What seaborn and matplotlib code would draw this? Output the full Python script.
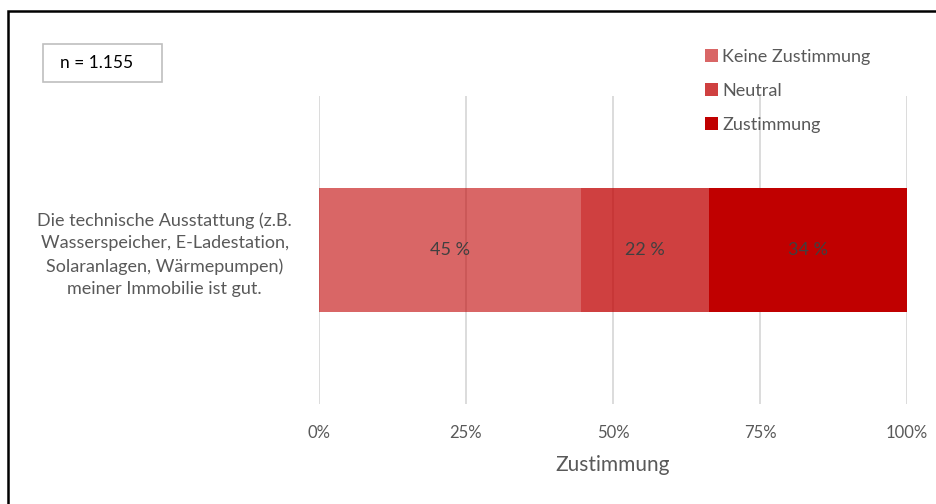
import pandas as pd
import matplotlib.pyplot as plt
import matplotlib.patches as mpatches
import seaborn as sns

# data
question = ("Die technische Ausstattung (z.B.\n"
            "Wasserspeicher, E-Ladestation,\n"
            "Solaranlagen, Wärmepumpen)\n"
            "meiner Immobilie ist gut.")
segments = ["Keine Zustimmung", "Neutral", "Zustimmung"]
values = [45, 22, 34]
seg_alpha = [0.6, 0.75, 1.0]
tick_vals = [0, 25, 50, 75, 100]
tick_labels = ["0%", "25%", "50%", "75%", "100%"]
n_text = "n = 1.155"

total = sum(values)
shares = [v / total * 100 for v in values]
lefts = [sum(shares[:i]) for i in range(len(shares))]

sns.set_theme(style="white")
plt.rcParams["font.family"] = ["Lato", "DejaVu Sans"]
txt_col = "#595959"

fig = plt.figure(figsize=(9.37, 5.04), dpi=100)
ax = fig.add_axes([0.3404, 0.1984, 0.968 - 0.3404, 0.8095 - 0.1984])

handles = []
for seg, share, left, a in zip(segments, shares, lefts, seg_alpha):
    df = pd.DataFrame({"Frage": [question], "Anteil": [share]})
    sns.barplot(data=df, y="Frage", x="Anteil", orient="h", ax=ax,
                color="#C00000", saturation=1, alpha=a, width=0.4,
                left=left, linewidth=0, zorder=2)
    handles.append(mpatches.Patch(color="#C00000", alpha=a, label=seg, linewidth=0))

for cont, v in zip(ax.containers, values):
    ax.bar_label(cont, labels=[f"{v} %"], label_type="center",
                 color="#404040", fontsize=13)

ax.set_xlim(0, 100)
ax.set_ylim(0.5, -0.5)
ax.set_xticks(tick_vals)
ax.set_xticklabels(tick_labels, color=txt_col, fontsize=12)
ax.tick_params(axis="x", length=0, pad=15)
ax.tick_params(axis="y", length=0)
for lab in ax.get_yticklabels():
    lab.set_horizontalalignment("center")
    lab.set_multialignment("center")
    lab.set_color(txt_col)
    lab.set_fontsize(13)
    lab.set_linespacing(1.5)
ax.yaxis.get_major_ticks()[0].set_pad(111)
ax.set_ylabel("")
ax.set_xlabel("Zustimmung", color=txt_col, fontsize=15, labelpad=10)
ax.grid(axis="x", color="#D9D9D9", linewidth=1.3, zorder=0)
ax.set_axisbelow(True)
sns.despine(ax=ax, left=True, bottom=True)

# outer frame (left and top edges)
fig.patches.append(mpatches.Rectangle((0.0085, -0.1), 1.2, 1.078, transform=fig.transFigure,
                                      fill=False, edgecolor="black", linewidth=1.8))
# n box
fig.patches.append(mpatches.Rectangle((0.0459, 0.837), 0.127, 0.076, transform=fig.transFigure,
                                      fill=False, edgecolor="#BFBFBF", linewidth=1.2))
fig.text(0.064, 0.875, n_text, va="center", ha="left", fontsize=12.5, color="black")

fig.legend(handles=handles, loc="upper left", bbox_to_anchor=(0.743, 0.921),
           frameon=False, borderpad=0, fontsize=13, labelcolor=txt_col,
           handlelength=0.7, handleheight=0.7, handletextpad=0.25, labelspacing=1.0)

plt.savefig("out.png", dpi=100)
